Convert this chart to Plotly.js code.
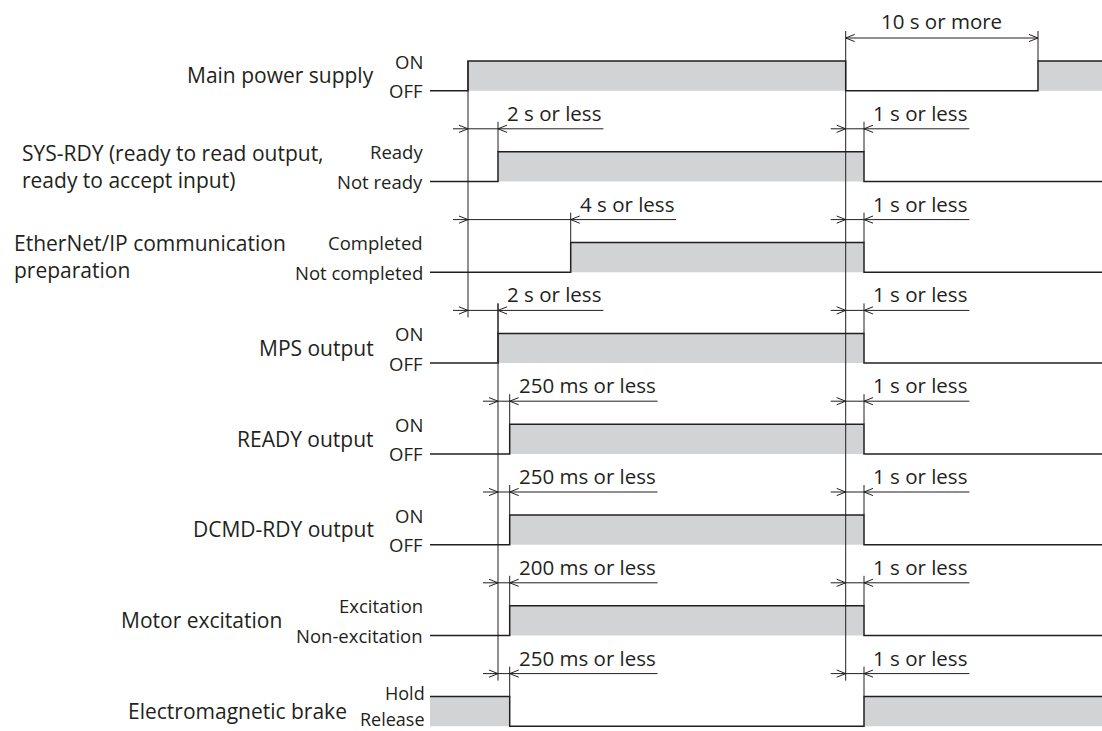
<!DOCTYPE html>
<html><head><meta charset="utf-8">
<script src="https://cdn.plot.ly/plotly-3.0.1.min.js"></script>
<style>html,body{margin:0;padding:0;background:#fff;}#chart{width:1102px;height:731px;}</style>
</head><body><div id="chart"></div>
<script>
// ---------------- data ----------------
const signalNames = ['Main power supply', 'SYS-RDY (ready to read output,<br>ready to accept input)', 'EtherNet/IP communication<br>preparation', 'MPS output', 'READY output', 'DCMD-RDY output', 'Motor excitation', 'Electromagnetic brake'];
const onLabels = ['ON', 'Ready', 'Completed', 'ON', 'ON', 'ON', 'Excitation', 'Hold'];
const offLabels = ['OFF', 'Not ready', 'Not completed', 'OFF', 'OFF', 'OFF', 'Non-excitation', 'Release'];
const initialOn = [false, false, false, false, false, false, false, true];
// switching instants along the (not-to-scale) time axis of the diagram
const switchTimes = [[0, 377.7, 570], [30, 396], [102.7, 396], [30, 396], [41.7, 396], [41.7, 396], [41.7, 396], [41.7, 396]];
const timeStart = -38, timeEnd = 634;

const timingLabels = ['10 s or more', '2 s or less', '1 s or less', '4 s or less', '1 s or less', '2 s or less', '1 s or less', '250 ms or less', '1 s or less', '250 ms or less', '1 s or less', '200 ms or less', '1 s or less', '250 ms or less', '1 s or less'];
const timingKind = ['min', 'max', 'max', 'max', 'max', 'max', 'max', 'max', 'max', 'max', 'max', 'max', 'max', 'max', 'max'];
const timingRow = [0, 1, 1, 2, 2, 3, 3, 4, 4, 5, 5, 6, 6, 7, 7];
const timingFrom = [377.7, 0, 377.7, 0, 377.7, 0, 377.7, 30, 377.7, 30, 377.7, 30, 377.7, 30, 377.7];
const timingTo = [570, 30, 396, 102.7, 396, 30, 396, 41.7, 396, 41.7, 396, 41.7, 396, 41.7, 396];

const guideTime = [0, 377.7, 30];
const guideFromRow = [0, 0, 3];
const guideToRow = [3, 7, 7];

// ---------------- layout / style ----------------
const W = 1102, H = 731;
const X0 = -468;
const ROW_PX = 90.8, TOP_PX = 61;
const py = p => p / ROW_PX;               // vertical pixels -> y units
const yMin = -TOP_PX / ROW_PX, yMax = (H - TOP_PX) / ROW_PX;
const LOW = py(29.7);
const DIM = py(-23);
const EXT = py(7);
const INK = '#231f20', GRAY = '#d1d3d4';
const FONT = 'Open Sans';
const nameX = [-92, -448, -456, -92, -92, -92, -184, -119];
const nameAlign = ['right', 'left', 'left', 'right', 'right', 'right', 'right', 'right'];
const stateX = -43;
const DIMFONT = 20.5;

const hi = r => r, lo = r => r + LOW, dimY = r => r + DIM;

const ctx = document.createElement('canvas').getContext('2d');
function textW(t, size) { ctx.font = size + 'px "' + FONT + '"'; return ctx.measureText(t).width; }

const traces = [];
const annotations = [];

// waveforms
signalNames.forEach((_, r) => {
  let on = initialOn[r];
  const xs = [timeStart], ys = [on ? hi(r) : lo(r)];
  const fx = [], fy = [];
  let segStart = timeStart;
  switchTimes[r].concat([timeEnd]).forEach((t, k, arr) => {
    if (on) { fx.push(segStart, t, t, segStart, segStart, null); fy.push(hi(r), hi(r), lo(r), lo(r), hi(r), null); }
    if (k < arr.length - 1) { on = !on; xs.push(t); ys.push(on ? hi(r) : lo(r)); segStart = t; }
  });
  xs.push(timeEnd); ys.push(on ? hi(r) : lo(r));
  traces.push({x: fx, y: fy, mode: 'lines', fill: 'toself', fillcolor: GRAY, line: {width: 0, color: GRAY}, hoverinfo: 'skip'});
  traces.push({x: xs, y: ys, mode: 'lines', line: {shape: 'hv', width: 1.5, color: INK}, hoverinfo: 'skip'});
  annotations.push({x: nameX[r], y: (hi(r) + lo(r)) / 2 - py(0.5), xref: 'x', yref: 'y', text: signalNames[r], showarrow: false,
    xanchor: nameAlign[r], yanchor: 'middle', align: 'left', font: {family: FONT, size: 21, color: INK}});
  const last = (r === signalNames.length - 1);
  if (!last) {
    annotations.push({x: stateX, y: hi(r), xref: 'x', yref: 'y', text: onLabels[r], showarrow: false, xanchor: 'right', yanchor: 'middle', font: {family: FONT, size: 18.5, color: INK}});
    annotations.push({x: stateX, y: lo(r), xref: 'x', yref: 'y', text: offLabels[r], showarrow: false, xanchor: 'right', yanchor: 'middle', font: {family: FONT, size: 18.5, color: INK}});
  } else {
    // bottom row: labels kept inside the picture and clear of each other
    annotations.push({x: stateX, y: hi(r) - py(4), xref: 'x', yref: 'y', text: onLabels[r], showarrow: false, xanchor: 'right', yanchor: 'middle',
      borderpad: 0, borderwidth: 0, font: {family: FONT, size: 18, color: INK}});
    annotations.push({x: stateX, y: yMax, xref: 'x', yref: 'y', text: offLabels[r], showarrow: false, xanchor: 'right', yanchor: 'bottom',
      borderpad: 0, borderwidth: 0, font: {family: FONT, size: 18, color: INK}});
  }
});

// dimension lines, arrows, extension lines
const dx = [], dy = [], ax = [], ay = [], ex = [], ey = [];
const AL = 9, AH = py(3.6);
function arrow(tip, y, dir) { // dir = +1 points right, -1 points left
  ax.push(tip - dir * AL, tip, tip - dir * AL, null); ay.push(y - AH, y, y + AH, null);
}
timingLabels.forEach((lab, i) => {
  const r = timingRow[i], y = dimY(r), a = timingFrom[i], b = timingTo[i];
  if (timingKind[i] === 'min') {
    dx.push(a, b, null); dy.push(y, y, null);
    arrow(a, y, -1); arrow(b, y, 1);
    annotations.push({x: (a + b) / 2, y: y, xref: 'x', yref: 'y', text: lab, showarrow: false, xanchor: 'center', yanchor: 'bottom', yshift: 1, font: {family: FONT, size: DIMFONT, color: INK}});
  } else {
    const tx = b + 7;
    const end = tx + textW(lab, DIMFONT) + 4;
    dx.push(a - 15, end, null); dy.push(y, y, null);
    arrow(a, y, 1); arrow(b, y, -1);
    annotations.push({x: tx, y: y, xref: 'x', yref: 'y', text: lab, showarrow: false, xanchor: 'left', yanchor: 'bottom', yshift: 0, font: {family: FONT, size: DIMFONT, color: INK}});
  }
  ex.push(b, b, null); ey.push(y - EXT, hi(r), null);
});
guideTime.forEach((t, g) => {
  const fr = guideFromRow[g];
  let top = hi(fr);
  timingLabels.forEach((_, i) => { if (timingRow[i] === fr && (timingFrom[i] === t || timingTo[i] === t)) top = Math.min(top, dimY(fr) - EXT); });
  ex.push(t, t, null); ey.push(top, dimY(guideToRow[g]) + EXT, null);
});
traces.push({x: dx, y: dy, mode: 'lines', line: {width: 1, color: INK}, hoverinfo: 'skip'});
traces.push({x: ax, y: ay, mode: 'lines', line: {width: 1, color: INK}, hoverinfo: 'skip'});
traces.push({x: ex, y: ey, mode: 'lines', line: {width: 1, color: INK}, hoverinfo: 'skip'});

const layout = {
  width: W, height: H, margin: {l: 0, r: 0, t: 0, b: 0, pad: 0},
  paper_bgcolor: '#fff', plot_bgcolor: '#fff', showlegend: false, hovermode: false,
  xaxis: {range: [X0, X0 + W], visible: false, fixedrange: true},
  yaxis: {range: [yMax, yMin], visible: false, fixedrange: true},
  annotations: annotations
};
Plotly.newPlot('chart', traces, layout, {staticPlot: true, displayModeBar: false});
</script></body></html>
